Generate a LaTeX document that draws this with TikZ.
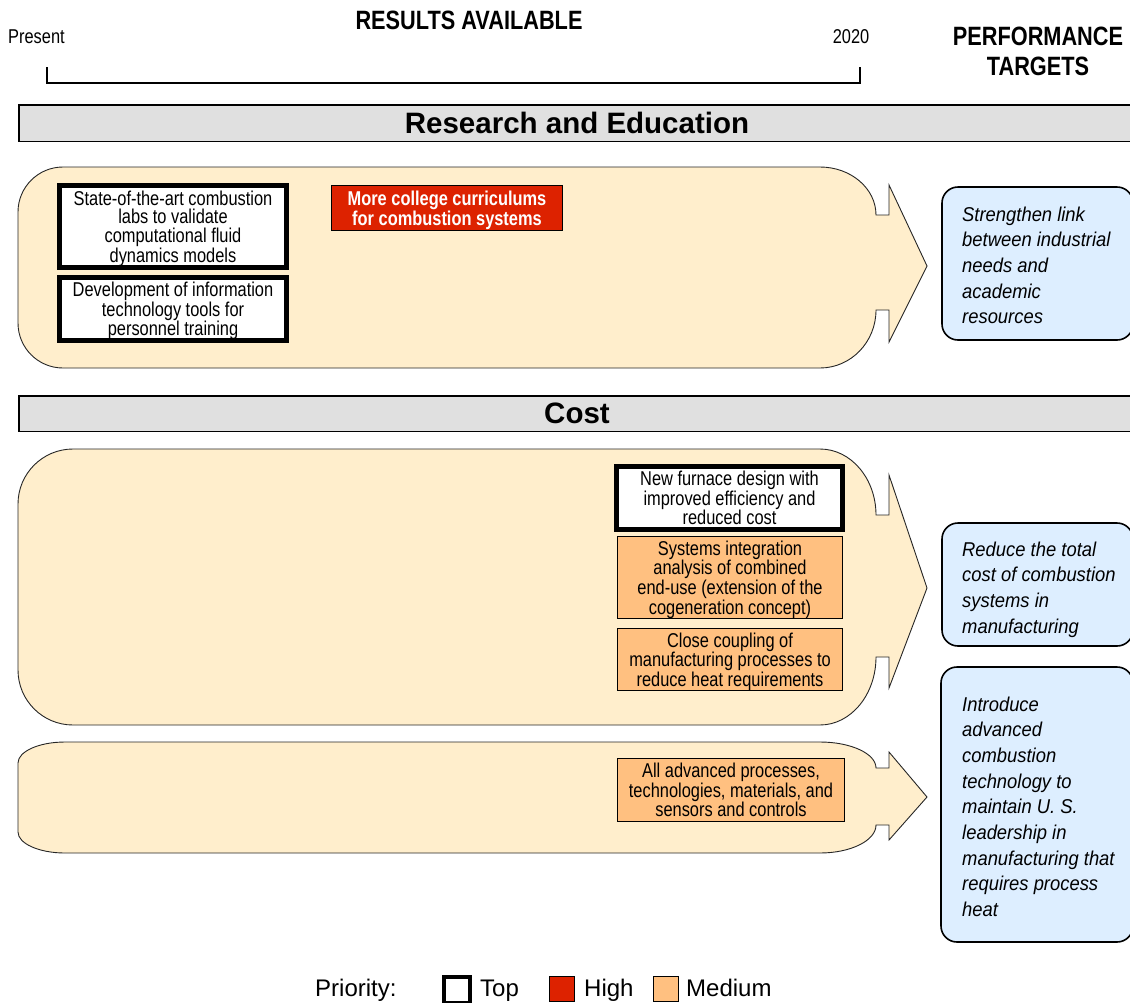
\documentclass[tikz,border=0pt]{standalone}
\usepackage{fontspec}
\setmainfont{Liberation Sans}
\newfontfamily\nfont[FakeStretch=0.82]{Liberation Sans}
\newfontfamily\gfont[FakeStretch=0.92]{Liberation Sans}

\definecolor{bandfill}{HTML}{FFEECC}
\definecolor{barfill}{HTML}{E0E0E0}
\definecolor{highred}{HTML}{DD2200}
\definecolor{medorange}{HTML}{FFC080}
\definecolor{targetblue}{HTML}{DDEEFF}

\newcommand\boxtxt{\nfont\fontsize{20}{18.5}\selectfont}
\newcommand\smalltxt{\nfont\fontsize{20}{22}\selectfont}
\newcommand\headtxt{\nfont\bfseries\fontsize{26.5}{30}\selectfont}
\newcommand\bartxt{\bfseries\fontsize{29.5}{30}\selectfont}
\newcommand\goaltxt{\gfont\itshape\fontsize{20}{25.7}\selectfont}
\newcommand\legtxt{\fontsize{24}{26}\selectfont}

% Rounded band ending in an arrow head.
% #1 top, #2 bottom, #3/#4 left corner radii, #5/#6 notch top/bottom,
% #7/#8 head top/bottom, #9 tip height
\newcommand\bandshape[9]{%
  \filldraw[band] (18+#3,#1) -- (820,#1)
    arc[start angle=-90,end angle=0,x radius=56,y radius={#5-#1}]
    -- (889,#5) -- (889,#7) -- (927,#9) -- (889,#8) -- (889,#6) -- (876,#6)
    arc[start angle=0,end angle=90,x radius=56,y radius={#2-#6}]
    -- (18+#3,#2)
    arc[start angle=90,end angle=180,x radius=#3,y radius=#4]
    -- (18,#1+#4)
    arc[start angle=180,end angle=270,x radius=#3,y radius=#4]
    -- cycle;}

\tikzset{
  band/.style={fill=bandfill, draw=black!85, line width=0.9pt},
  bar/.style={fill=barfill, draw=black, line width=1.5pt, inner sep=0pt, font=\bartxt},
  topbox/.style={draw=black, line width=5pt, fill=white, inner sep=0pt, align=center, font=\boxtxt, text depth=0pt},
  highbox/.style={draw=black, line width=1.3pt, fill=highred, text=white, inner sep=0pt, align=center, font=\boxtxt\bfseries, text depth=0pt},
  medbox/.style={draw=black, line width=1.3pt, fill=medorange, inner sep=0pt, align=center, font=\boxtxt, text depth=0pt},
  goalbox/.style={draw=black, line width=1.6pt, fill=targetblue, rounded corners=16pt},
  goaltext/.style={anchor=base west, align=left, inner sep=0pt, font=\goaltxt},
  label/.style={inner sep=0pt},
}

\begin{document}
\begin{tikzpicture}[x=1pt, y=-1pt]
\useasboundingbox (0,0) rectangle (1130,1002);

% time line header (multi-line nodes are placed by their last baseline)
\node[label, anchor=base west, font=\smalltxt] (present) at (8,43) {Present};
\node[label, anchor=base, font=\smalltxt] (year) at (851,43) {2020};
\node[label, anchor=base, font=\headtxt] (results) at (469,29) {RESULTS AVAILABLE};
\node[label, anchor=base, align=center, font=\headtxt] (perf) at (1038,75) {PERFORMANCE\\TARGETS};
\coordinate (tstart) at (47,67);
\coordinate (tend) at (860,67);
\draw[line width=1.5pt] (tstart) -- ++(0,16) -| (tend);

% section bars
\node[bar, minimum width=1116.5, minimum height=36.5] (research) at (577,123) {Research and Education};
\node[bar, minimum width=1116.5, minimum height=35.5] (cost) at (577,413.5) {Cost};

% bands
\bandshape{167}{368}{45}{45}{215}{310}{185}{342}{266}
\bandshape{449}{725}{55}{55}{515}{657}{475}{688}{588}
\bandshape{742}{853}{47}{21}{768}{825}{752}{840}{797}

% research and education
\node[topbox, minimum width=227, minimum height=82] (labs) at (173,226.5)
  {State-of-the-art combustion\\labs to validate\\computational fluid\\dynamics models};
\node[topbox, minimum width=227, minimum height=63] (ittools) at (173,309)
  {Development of information\\technology tools for\\personnel training};
\node[highbox, minimum width=230.7, minimum height=44.7] (curric) at (447,208)
  {More college curriculums\\for combustion systems};

% cost
\node[topbox, minimum width=226, minimum height=63] (furnace) at (729.5,498)
  {New furnace design with\\improved efficiency and\\reduced cost};
\node[medbox, minimum width=224.7, minimum height=81.7] (sysint) at (730,577.5)
  {Systems integration\\analysis of combined\\end-use (extension of the\\cogeneration concept)};
\node[medbox, minimum width=224.7, minimum height=61.7] (coupling) at (730,659.5)
  {Close coupling of\\manufacturing processes to\\reduce heat requirements};
\node[medbox, minimum width=226.7, minimum height=62.7] (advanced) at (731,790)
  {All advanced processes,\\technologies, materials, and\\sensors and controls};

% performance targets
\draw[goalbox] (942,187) rectangle (1133,340);
\node[goaltext] (goalA) at (962,323.8)
  {Strengthen link\\between industrial\\needs and\\academic\\resources};
\draw[goalbox] (942,523) rectangle (1133,646);
\node[goaltext] (goalB) at (962,633.1)
  {Reduce the total\\cost of combustion\\systems in\\manufacturing};
\draw[goalbox] (941,667) rectangle (1133,942);
\node[goaltext] (goalC) at (962,916.6)
  {Introduce\\advanced\\combustion\\technology to\\maintain U. S.\\leadership in\\manufacturing that\\requires process\\heat};

% legend
\node[label, anchor=base west, font=\legtxt] (prio) at (315,996) {Priority:};
\node[draw=black, line width=4pt, fill=white, minimum size=26, inner sep=0pt] (sqtop) at (457,990) {};
\node[label, anchor=base west, font=\legtxt] (ltop) at (480,996) {Top};
\node[draw=black, line width=1.3pt, fill=highred, minimum size=24.7, inner sep=0pt] (sqhigh) at (562,989) {};
\node[label, anchor=base west, font=\legtxt] (lhigh) at (584,996) {High};
\node[draw=black, line width=1.3pt, fill=medorange, minimum size=24.7, inner sep=0pt] (sqmed) at (666,989) {};
\node[label, anchor=base west, font=\legtxt] (lmed) at (686,996) {Medium};
\end{tikzpicture}
\end{document}
